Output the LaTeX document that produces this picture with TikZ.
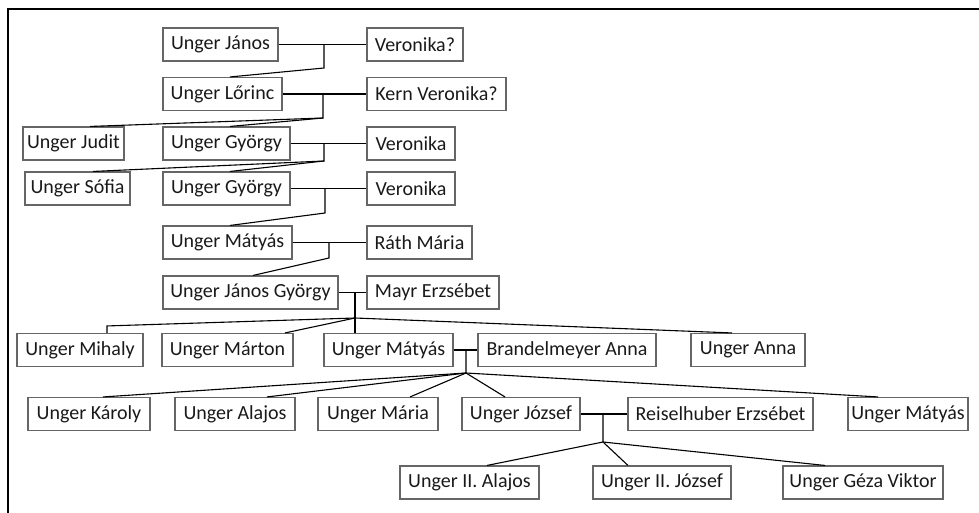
\documentclass[tikz,border=0pt]{standalone}
\usepackage{fontspec}
\setmainfont{Carlito}
\newcommand{\namefont}{\fontsize{20}{22}\selectfont}
\tikzset{
  person/.style={draw=black!60, line width=1.1pt, minimum height=33pt, inner sep=0pt, text=black!90, font=\namefont},
  link/.style={draw=black, line width=1.1pt},
}
\begin{document}
\begin{tikzpicture}[x=1pt,y=-1pt]
\useasboundingbox (0,0) rectangle (979,513);
\draw[line width=2pt] (8,513) -- (8,9) -- (979,9);

% generation 1-6
\node[person, minimum width=115pt] (janos) at (220.5,44.5) {Unger János};
\node[person, minimum width=96pt] (veronika1) at (415,44.5) {Veronika?};
\node[person, minimum width=119pt] (lorinc) at (222.5,94) {Unger Lőrinc};
\node[person, minimum width=139pt] (kern) at (436.5,94) {Kern Veronika?};
\node[person, minimum width=101pt] (judit) at (73.5,143.5) {Unger Judit};
\node[person, minimum width=127pt] (gyorgy1) at (226.5,143.5) {Unger György};
\node[person, minimum width=88pt] (veronika2) at (411,143.5) {Veronika};
\node[person, minimum width=105pt] (sofia) at (77.5,188.5) {Unger Sófia};
\node[person, minimum width=127pt] (gyorgy2) at (226.5,188.5) {Unger György};
\node[person, minimum width=88pt] (veronika3) at (411,188.5) {Veronika};
\node[person, minimum width=129pt] (matyas1) at (227.5,242.5) {Unger Mátyás};
\node[person, minimum width=105pt] (rath) at (419.5,242.5) {Ráth Mária};
\node[person, minimum width=175pt] (janosgy) at (250.5,292.5) {Unger János György};
\node[person, minimum width=132pt] (mayr) at (433,292.5) {Mayr Erzsébet};

% generation 7
\node[person, minimum width=126pt] (mihaly) at (80,350) {Unger Mihaly};
\node[person, minimum width=131pt] (marton) at (227.5,350) {Unger Márton};
\node[person, minimum width=129pt] (matyas2) at (388.5,350) {Unger Mátyás};
\node[person, minimum width=178pt] (brandel) at (567,350) {Brandelmeyer Anna};
\node[person, minimum width=114pt] (anna) at (748,350) {Unger Anna};

% generation 8
\node[person, minimum width=122pt] (karoly) at (89,414) {Unger Károly};
\node[person, minimum width=120pt] (alajos) at (235,414) {Unger Alajos};
\node[person, minimum width=120pt] (maria) at (378,414) {Unger Mária};
\node[person, minimum width=118pt] (jozsef) at (521,414) {Unger József};
\node[person, minimum width=185pt] (reisel) at (720.5,414) {Reiselhuber Erzsébet};
\node[person, minimum width=120pt] (matyas3) at (908,414) {Unger Mátyás};

% generation 9
\node[person, minimum width=139pt] (alajos2) at (469.5,482.5) {Unger II. Alajos};
\node[person, minimum width=138pt] (jozsef2) at (662,482.5) {Unger II. József};
\node[person, minimum width=160pt] (geza) at (863,482.5) {Unger Géza Viktor};

% couples
\coordinate (m1) at (324,68);
\coordinate (m2) at (323,118);
\coordinate (m3) at (324,161);
\coordinate (m4) at (325,213);
\coordinate (m5) at (329,258);
\coordinate (m6) at (355,318);
\coordinate (m7) at (466,373);
\coordinate (m8) at (603,442);

\draw[link] (janos) -- (veronika1);
\draw[link] (m1 |- janos) -- (m1) -- ([xshift=7.5pt]lorinc.north);
\draw[link] (lorinc) -- (kern);
\draw[link] (m2 |- lorinc) -- (m2) -- ([xshift=16.5pt]judit.north);
\draw[link] (m2) -- ([xshift=3.5pt]gyorgy1.north);
\draw[link] (gyorgy1) -- (veronika2);
\draw[link] (m3 |- gyorgy1) -- (m3) -- ([xshift=15.5pt]sofia.north);
\draw[link] (m3) -- ([xshift=3.5pt]gyorgy2.north);
\draw[link] (gyorgy2) -- (veronika3);
\draw[link] (m4 |- gyorgy2) -- (m4) -- ([xshift=2.5pt]matyas1.north);
\draw[link] (matyas1) -- (rath);
\draw[link] (m5 |- matyas1) -- (m5) -- ([xshift=2.5pt]janosgy.north);
\draw[link] (janosgy) -- (mayr);
\draw[link] (m6 |- janosgy) -- ([xshift=-33.5pt]matyas2.north);
\draw[link] (m6) -- ([xshift=27pt,yshift=7pt]mihaly.north) -- ([xshift=27pt]mihaly.north);
\draw[link] (m6) -- ([xshift=57.5pt]marton.north);
\draw[link] (m6) -- ([xshift=-16pt]anna.north);
\draw[link] (matyas2) -- (brandel);
\draw[link] (m7 |- matyas2) -- (m7) -- ([xshift=14pt]karoly.north);
\draw[link] (m7) -- ([xshift=32pt]alajos.north);
\draw[link] (m7) -- ([xshift=32pt]maria.north);
\draw[link] (m7) -- ([xshift=-16pt]jozsef.north);
\draw[link] (m7) -- ([xshift=-30pt]matyas3.north);
\draw[link] (jozsef) -- (reisel);
\draw[link] (m8 |- jozsef) -- (m8) -- ([xshift=17.5pt]alajos2.north);
\draw[link] (m8) -- ([xshift=-34pt]jozsef2.north);
\draw[link] (m8) -- ([xshift=-38pt]geza.north);
\end{tikzpicture}
\end{document}
